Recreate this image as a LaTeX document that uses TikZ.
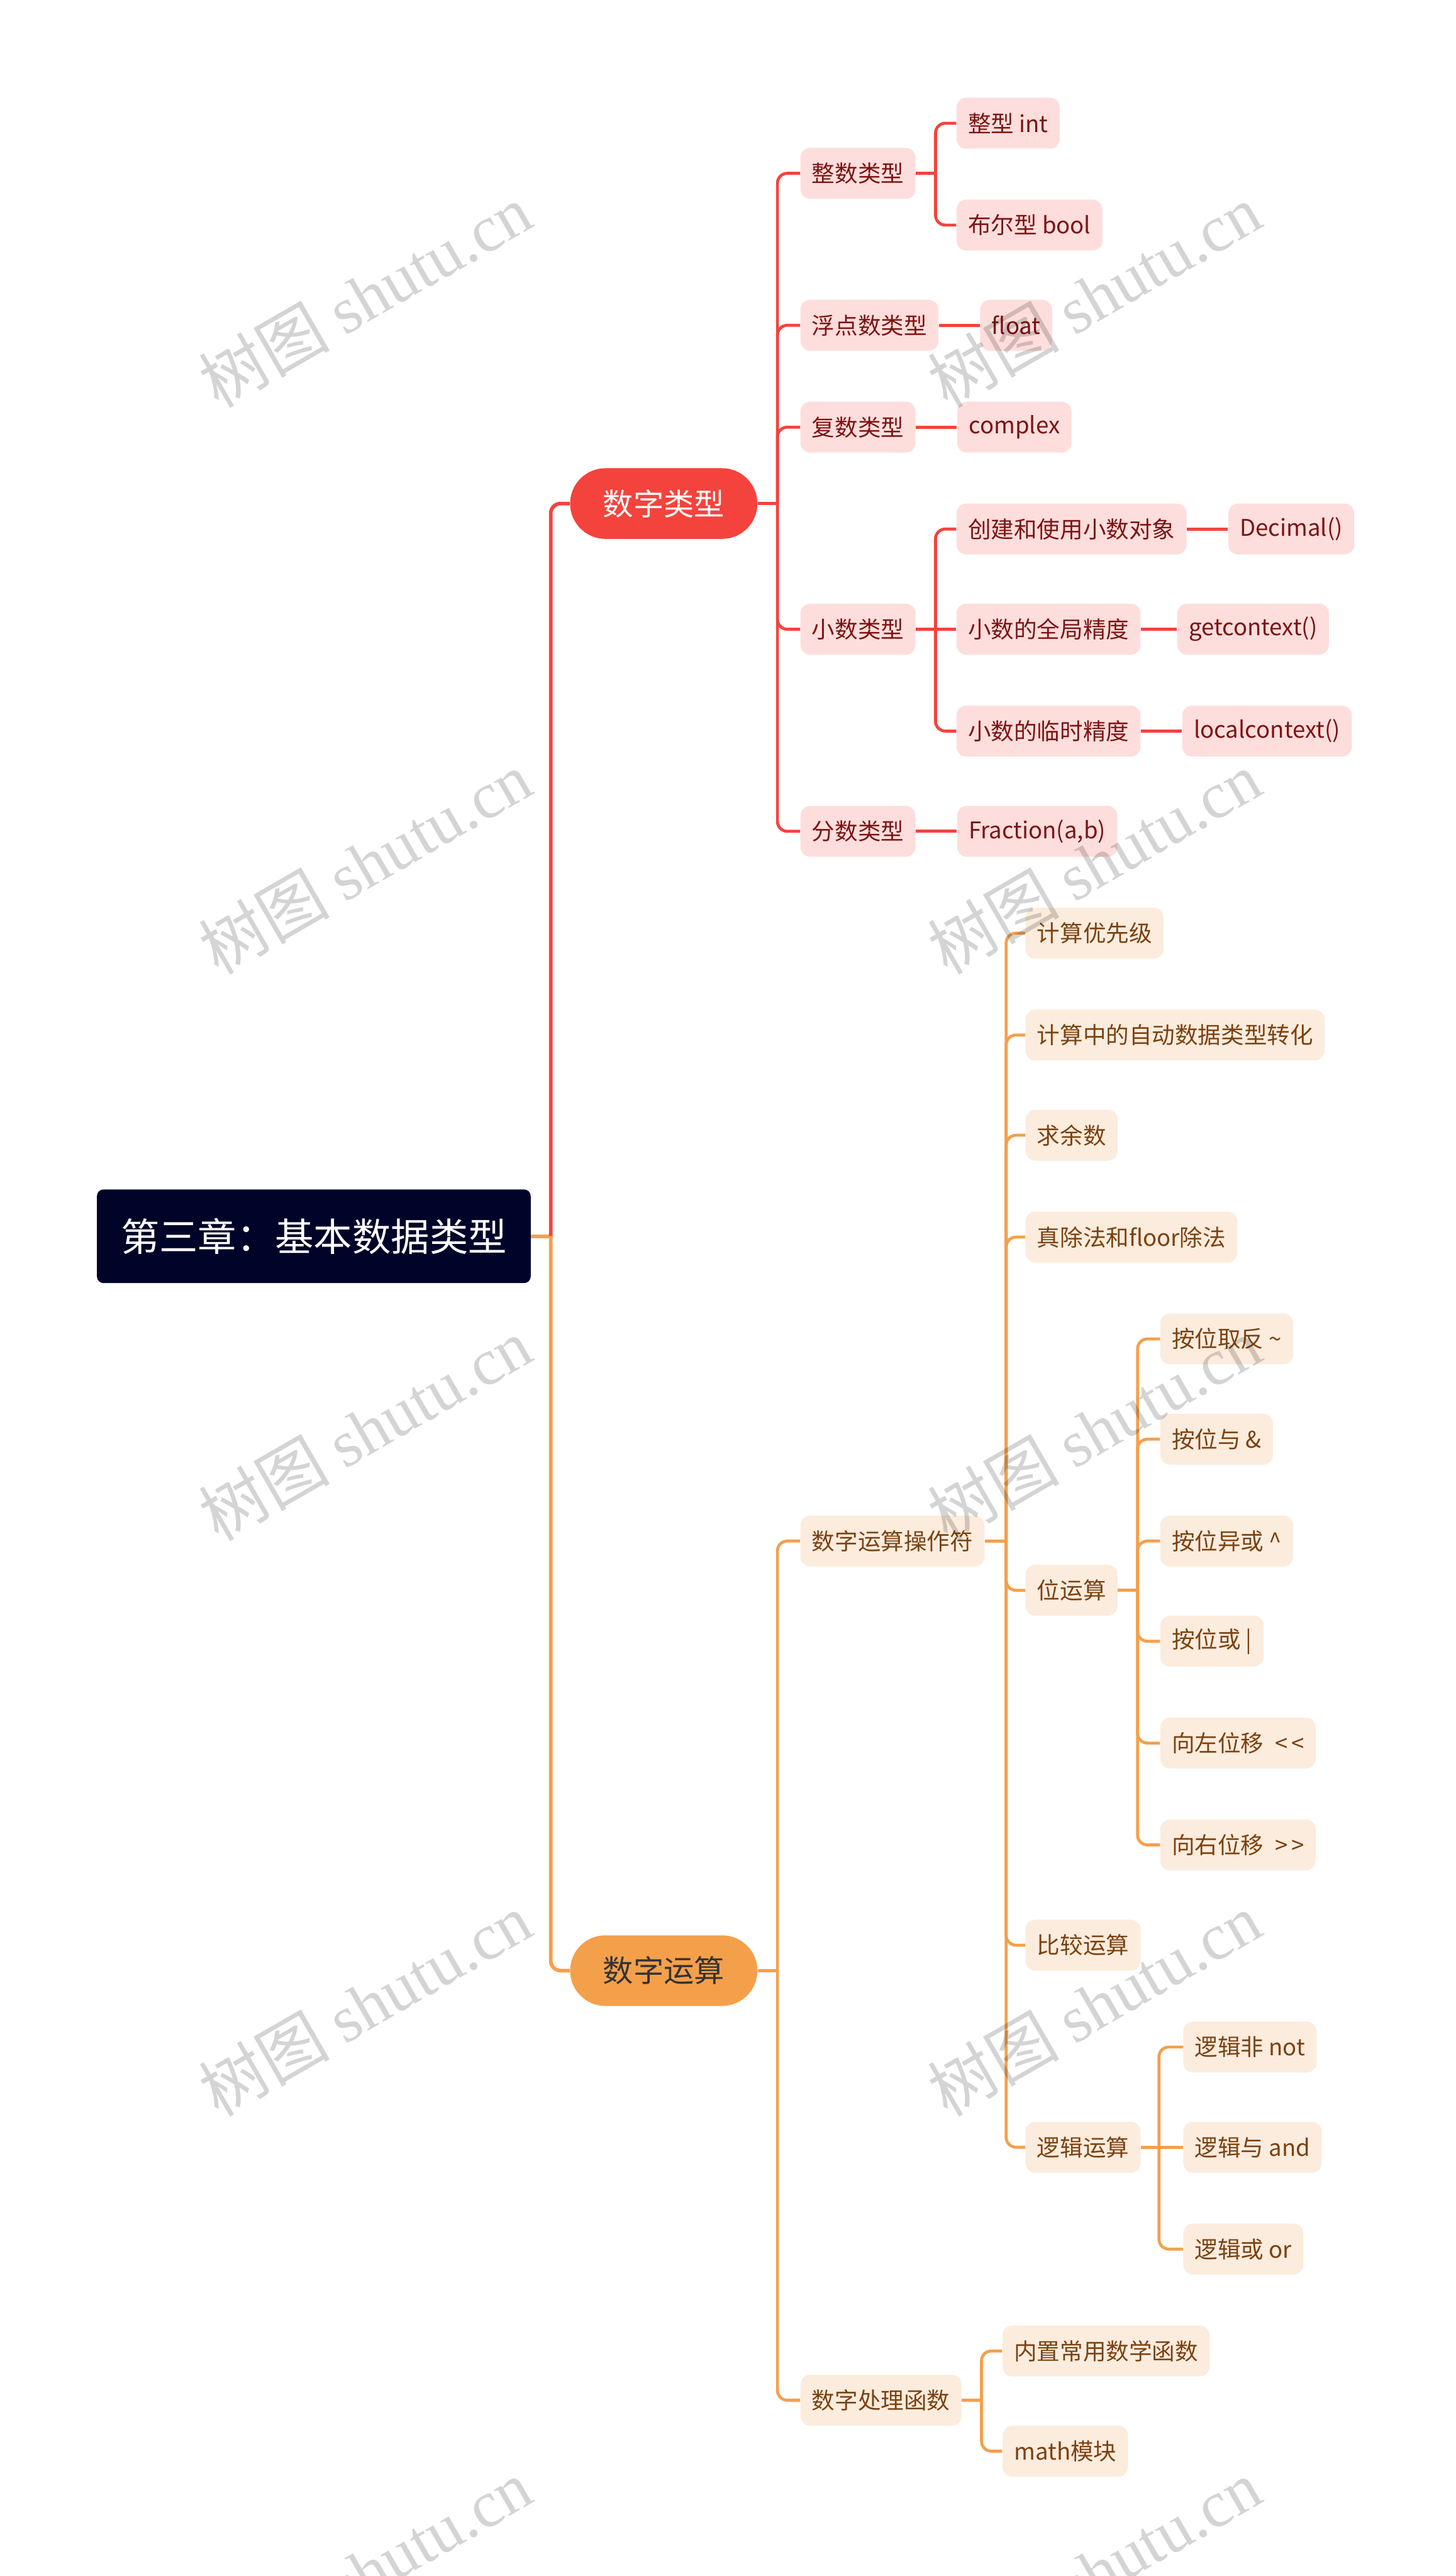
\documentclass[tikz,border=0pt]{standalone}
\usepackage{fontspec}
\setmainfont{Noto Sans CJK SC}
\newfontfamily\markfont{Liberation Serif}
\usepackage{tikz}
\usetikzlibrary{positioning}
\definecolor{MapNavy}{HTML}{000428}
\definecolor{MapRed}{HTML}{F4433C}
\definecolor{MapRedLight}{HTML}{FDDEDC}
\definecolor{MapRedText}{HTML}{7D1414}
\definecolor{MapOrange}{HTML}{F4A04B}
\definecolor{MapOrangeLight}{HTML}{FCECDD}
\definecolor{MapOrangeText}{HTML}{7B4212}
\tikzset{
  redlink/.style={draw=MapRed, line width=1.8pt, rounded corners=6pt},
  orglink/.style={draw=MapOrange, line width=1.8pt, rounded corners=6pt},
  watermark/.style={rotate=30, text=black, text opacity=0.17, inner sep=0pt,
    font=\fontsize{40}{44}\selectfont}
}

\begin{document}
\begin{tikzpicture}[
  x=1pt, y=-1pt,
  rootbox/.style={fill=MapNavy, text=white, rounded corners=4pt, minimum width=264pt,
    minimum height=57pt, font=\fontsize{23.5}{26}\selectfont},
  pill/.style={rounded corners=21.5pt, minimum width=114pt, minimum height=43pt,
    font=\fontsize{18.5}{20}\selectfont},
  leaf/.style={rounded corners=6pt, minimum height=31pt, inner xsep=7pt, inner ysep=0pt,
    font=\fontsize{14}{16}\selectfont},
  redleaf/.style={leaf, fill=MapRedLight, text=MapRedText},
  orgleaf/.style={leaf, fill=MapOrangeLight, text=MapOrangeText},
  node distance=25pt
]
\useasboundingbox (0,0) rectangle (886,1568);
\clip (0,0) rectangle (886,1568);
\fill[white] (0,0) rectangle (886,1568);

% centre and main branches
\node[rootbox] (root) at (191,752.5) {第三章：基本数据类型};
\node[pill, fill=MapRed, text=white] (numtype) at (404,306.5) {数字类型};
\node[pill, fill=MapOrange, text=black!80] (numop) at (404,1199.5) {数字运算};

% number types
\node[redleaf, anchor=west] (inttype) at (487,105.5) {整数类型};
\node[redleaf, anchor=west] (floattype) at (487,198) {浮点数类型};
\node[redleaf, anchor=west] (cplxtype) at (487,260) {复数类型};
\node[redleaf, anchor=west] (dectype) at (487,383) {小数类型};
\node[redleaf, anchor=west] (fractype) at (487,506) {分数类型};

\node[redleaf, anchor=west] (intleaf) at (582,75) {整型 int};
\node[redleaf, anchor=west] (boolleaf) at (582,137) {布尔型 bool};
\node[redleaf, right=of floattype] (floatleaf) {float};
\node[redleaf, right=of cplxtype] (cplxleaf) {complex};
\node[redleaf, anchor=west] (decnew) at (582,322) {创建和使用小数对象};
\node[redleaf, anchor=west] (decglobal) at (582,383) {小数的全局精度};
\node[redleaf, anchor=west] (declocal) at (582,445) {小数的临时精度};
\node[redleaf, right=of decnew] (decobj) {Decimal()};
\node[redleaf, right=22pt of decglobal] (getctx) {getcontext()};
\node[redleaf, right=of declocal] (localctx) {localcontext()};
\node[redleaf, right=of fractype] (fracleaf) {Fraction(a,b)};

% number operations
\node[orgleaf, anchor=west] (opnode) at (487,938) {数字运算操作符};
\node[orgleaf, anchor=west] (funcnode) at (487,1461) {数字处理函数};

\node[orgleaf, anchor=west] (priority) at (624,568) {计算优先级};
\node[orgleaf, anchor=west] (autoconv) at (624,630) {计算中的自动数据类型转化};
\node[orgleaf, anchor=west] (remainder) at (624,691) {求余数};
\node[orgleaf, anchor=west] (division) at (624,753) {真除法和floor除法};
\node[orgleaf, anchor=west] (bitop) at (624,968) {位运算};
\node[orgleaf, anchor=west] (compare) at (624,1184) {比较运算};
\node[orgleaf, anchor=west] (logicop) at (624,1307) {逻辑运算};

\node[orgleaf, anchor=west] (bitnot) at (706,815) {按位取反 \textasciitilde};
\node[orgleaf, anchor=west] (bitand) at (706,876) {按位与 \&};
\node[orgleaf, anchor=west] (bitxor) at (706,938) {按位异或 \textasciicircum};
\node[orgleaf, anchor=west] (bitor) at (706,999) {按位或 |};
\node[orgleaf, anchor=west] (shl) at (706,1061) {向左位移\enspace <\kern2pt<};
\node[orgleaf, anchor=west] (shr) at (706,1123) {向右位移\enspace >\kern2pt>};

\node[orgleaf, anchor=west] (lnot) at (720,1246) {逻辑非 not};
\node[orgleaf, anchor=west] (land) at (720,1307) {逻辑与 and};
\node[orgleaf, anchor=west] (lor) at (720,1369) {逻辑或 or};

\node[orgleaf, anchor=west] (builtin) at (610,1431) {内置常用数学函数};
\node[orgleaf, anchor=west] (mathmod) at (610,1492) {math模块};

% connectors, root level
\coordinate (rootJ) at ([xshift=12pt]root.east);
\draw[orglink, line width=2.2pt] (root.east) -- (rootJ);
\draw[redlink, line width=2.2pt] (rootJ) |- (numtype.west);
\draw[orglink, line width=2.2pt] (rootJ) |- (numop.west);

% connectors, red branch
\coordinate (numtypeJ) at ([xshift=12pt]numtype.east);
\draw[redlink] (numtype.east) -- (numtypeJ);
\draw[redlink] (numtypeJ) |- (inttype.west);
\draw[redlink] (numtypeJ) |- (floattype.west);
\draw[redlink] (numtypeJ) |- (cplxtype.west);
\draw[redlink] (numtypeJ) |- (dectype.west);
\draw[redlink] (numtypeJ) |- (fractype.west);

\coordinate (inttypeJ) at ([xshift=12pt]inttype.east);
\draw[redlink] (inttype.east) -- (inttypeJ);
\draw[redlink] (inttypeJ) |- (intleaf.west);
\draw[redlink] (inttypeJ) |- (boolleaf.west);
\draw[redlink] (floattype.east) -- (floatleaf.west);
\draw[redlink] (cplxtype.east) -- (cplxleaf.west);

\coordinate (dectypeJ) at ([xshift=12pt]dectype.east);
\draw[redlink] (dectype.east) -- (dectypeJ);
\draw[redlink] (dectypeJ) |- (decnew.west);
\draw[redlink] (dectypeJ) -- (decglobal.west);
\draw[redlink] (dectypeJ) |- (declocal.west);
\draw[redlink] (decnew.east) -- (decobj.west);
\draw[redlink] (decglobal.east) -- (getctx.west);
\draw[redlink] (declocal.east) -- (localctx.west);
\draw[redlink] (fractype.east) -- (fracleaf.west);

% connectors, orange branch
\coordinate (numopJ) at ([xshift=12pt]numop.east);
\draw[orglink] (numop.east) -- (numopJ);
\draw[orglink] (numopJ) |- (opnode.west);
\draw[orglink] (numopJ) |- (funcnode.west);

\coordinate (opnodeJ) at ([xshift=13pt]opnode.east);
\draw[orglink] (opnode.east) -- (opnodeJ);
\draw[orglink] (opnodeJ) |- (priority.west);
\draw[orglink] (opnodeJ) |- (autoconv.west);
\draw[orglink] (opnodeJ) |- (remainder.west);
\draw[orglink] (opnodeJ) |- (division.west);
\draw[orglink] (opnodeJ) |- (bitop.west);
\draw[orglink] (opnodeJ) |- (compare.west);
\draw[orglink] (opnodeJ) |- (logicop.west);

\coordinate (bitopJ) at ([xshift=12pt]bitop.east);
\draw[orglink] (bitop.east) -- (bitopJ);
\draw[orglink] (bitopJ) |- (bitnot.west);
\draw[orglink] (bitopJ) |- (bitand.west);
\draw[orglink] (bitopJ) |- (bitxor.west);
\draw[orglink] (bitopJ) |- (bitor.west);
\draw[orglink] (bitopJ) |- (shl.west);
\draw[orglink] (bitopJ) |- (shr.west);

\coordinate (logicopJ) at ([xshift=11pt]logicop.east);
\draw[orglink] (logicop.east) -- (logicopJ);
\draw[orglink] (logicopJ) |- (lnot.west);
\draw[orglink] (logicopJ) -- (land.west);
\draw[orglink] (logicopJ) |- (lor.west);

\coordinate (funcnodeJ) at ([xshift=12pt]funcnode.east);
\draw[orglink] (funcnode.east) -- (funcnodeJ);
\draw[orglink] (funcnodeJ) |- (builtin.west);
\draw[orglink] (funcnodeJ) |- (mathmod.west);

% watermark
\node[watermark] (markA) at (222,180) {树图 {\markfont shutu.cn}};
\node[watermark] (markB) at (222,525) {树图 {\markfont shutu.cn}};
\node[watermark] (markC) at (222,870) {树图 {\markfont shutu.cn}};
\node[watermark] (markD) at (222,1220) {树图 {\markfont shutu.cn}};
\node[watermark] (markE) at (222,1565) {树图 {\markfont shutu.cn}};
\node[watermark] (markF) at (666,180) {树图 {\markfont shutu.cn}};
\node[watermark] (markG) at (666,525) {树图 {\markfont shutu.cn}};
\node[watermark] (markH) at (666,870) {树图 {\markfont shutu.cn}};
\node[watermark] (markI) at (666,1220) {树图 {\markfont shutu.cn}};
\node[watermark] (markJ) at (666,1565) {树图 {\markfont shutu.cn}};
\end{tikzpicture}
\end{document}
